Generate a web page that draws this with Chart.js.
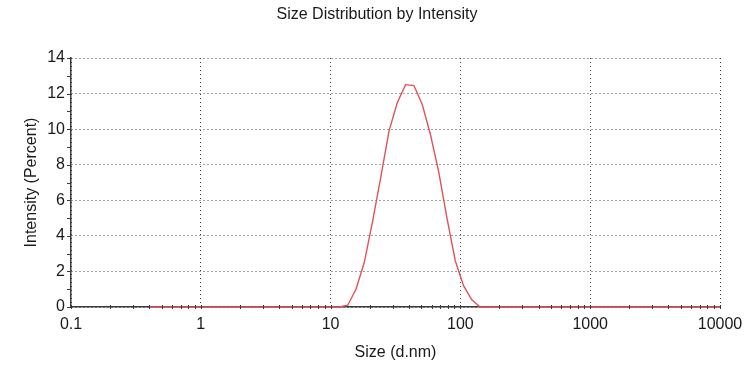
<!DOCTYPE html>
<html>
<head>
<meta charset="utf-8">
<script src="https://cdn.jsdelivr.net/npm/chart.js@4.4.0/dist/chart.umd.min.js"></script>
<style>
  html, body { margin: 0; padding: 0; background: #fff; }
  #wrap { width: 754px; height: 370px; }
</style>
</head>
<body>
<div id="wrap"><canvas id="sizeChart"></canvas></div>
<script>
// ---- Data (size bins in d.nm, intensity in %) ----
const sizes = [
  0.4, 0.4632, 0.5365, 0.6213, 0.7195, 0.8332, 0.9649, 1.117, 1.294, 1.499,
  1.736, 2.01, 2.328, 2.696, 3.122, 3.615, 4.187, 4.849, 5.615, 6.503,
  7.531, 8.721, 10.1, 11.7, 13.54, 15.69, 18.17, 21.04, 24.36, 28.21,
  32.67, 37.84, 43.82, 50.75, 58.77, 68.06, 78.82, 91.28, 105.7, 122.4,
  141.8, 164.2, 190.1, 220.2, 255.0, 295.3, 342.0, 396.1, 458.7, 531.2,
  615.1, 712.4, 825.0, 955.4, 1106, 1281, 1484, 1718, 1990, 2305,
  2669, 3091, 3580, 4145, 4801, 5560, 6439, 7456, 8635, 10000
];
const intensity = [
  0, 0, 0, 0, 0, 0, 0, 0, 0, 0,
  0, 0, 0, 0, 0, 0, 0, 0, 0, 0,
  0, 0, 0, 0, 0.1, 1.0, 2.5, 4.8, 7.3, 9.9,
  11.5, 12.5, 12.45, 11.4, 9.7, 7.6, 5.0, 2.6, 1.2, 0.4,
  0, 0, 0, 0, 0, 0, 0, 0, 0, 0,
  0, 0, 0, 0, 0, 0, 0, 0, 0, 0,
  0, 0, 0, 0, 0, 0, 0, 0, 0, 0
];
const xTicks = [0.1, 1, 10, 100, 1000, 10000];
const yTicks = [0, 2, 4, 6, 8, 10, 12, 14];
const chartTitle = 'Size Distribution by Intensity';

const FONT = { family: '"Liberation Sans", Arial, sans-serif', size: 16 };
const TEXT = '#1a1a1a';
const AXIS = '#3a3a3a';

// ---- title centred on the whole canvas ----
const pageTitle = {
  id: 'pageTitle',
  afterDraw(chart) {
    const { ctx, width } = chart;
    ctx.save();
    ctx.font = `${FONT.size}px ${FONT.family}`;
    ctx.fillStyle = TEXT;
    ctx.textAlign = 'center';
    ctx.textBaseline = 'middle';
    ctx.fillText(chartTitle, width / 2, 15);
    ctx.restore();
  }
};

// ---- small tick marks on both axes ----
const minorTicks = {
  id: 'minorTicks',
  afterDraw(chart) {
    const { ctx, scales: { x, y } } = chart;
    ctx.save();
    ctx.strokeStyle = AXIS;
    ctx.lineWidth = 1;
    ctx.beginPath();
    xTicks.forEach(d => {
      for (let m = 1; m < 10; m++) {
        const v = d * m;
        if (v > x.max + 1e-9) break;
        const px = Math.round(x.getPixelForValue(v)) + 0.5;
        ctx.moveTo(px, y.bottom - 2);
        ctx.lineTo(px, y.bottom + 2);
      }
    });
    for (let v = 0; v <= 14; v++) {
      const py = Math.round(y.getPixelForValue(v)) + 0.5;
      ctx.moveTo(x.left - 4, py);
      ctx.lineTo(x.left, py);
    }
    ctx.stroke();
    ctx.restore();
  }
};

new Chart(document.getElementById('sizeChart'), {
  type: 'line',
  data: {
    datasets: [{
      data: sizes.map((s, i) => ({ x: s, y: intensity[i] })),
      borderColor: 'rgb(226, 82, 92)',
      borderWidth: 1.4,
      pointRadius: 0,
      tension: 0,
      clip: 3
    }]
  },
  options: {
    responsive: true,
    maintainAspectRatio: false,
    animation: false,
    layout: { padding: { top: 58, right: 34, bottom: 0, left: 0 } },
    plugins: {
      legend: { display: false },
      tooltip: { enabled: false },
      title: { display: false }
    },
    scales: {
      x: {
        type: 'logarithmic',
        min: 0.1,
        max: 10000,
        afterBuildTicks: (scale) => { scale.ticks = xTicks.map(v => ({ value: v })); },
        afterFit: (scale) => { scale.height = 63; },
        ticks: {
          color: TEXT,
          font: FONT,
          padding: 8,
          maxRotation: 0,
          autoSkip: false,
          callback: (v) => String(v)
        },
        grid: { color: '#444', lineWidth: 1, drawTicks: false },
        border: { display: true, color: AXIS, width: 1.5, dash: [1, 3] },
        title: {
          display: true,
          text: 'Size (d.nm)',
          color: TEXT,
          font: FONT,
          padding: { top: 0, bottom: 8 }
        }
      },
      y: {
        min: 0,
        max: 14,
        afterBuildTicks: (scale) => { scale.ticks = yTicks.map(v => ({ value: v })); },
        afterFit: (scale) => { scale.width = 71; },
        ticks: { color: TEXT, font: FONT, padding: 6 },
        grid: { color: '#444', lineWidth: 1, drawTicks: false },
        border: { display: true, color: AXIS, width: 1.5, dash: [1, 3] },
        title: {
          display: true,
          text: 'Intensity (Percent)',
          color: TEXT,
          font: FONT,
          padding: { top: 22, bottom: 0 }
        }
      }
    }
  },
  plugins: [minorTicks, pageTitle]
});
</script>
</body>
</html>
